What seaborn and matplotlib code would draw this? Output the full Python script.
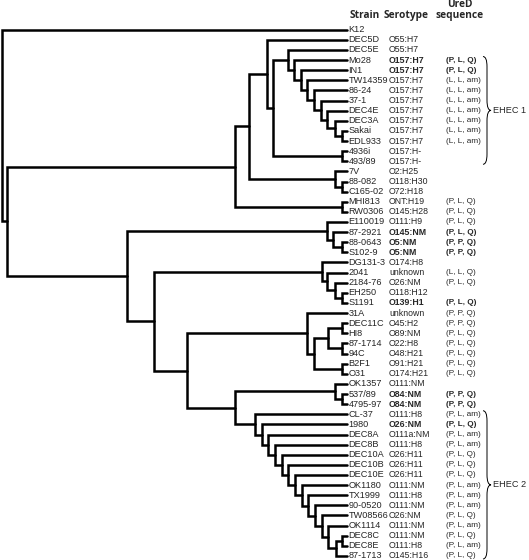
import numpy as np
import pandas as pd
import matplotlib
matplotlib.use("Agg")
import matplotlib.pyplot as plt
from matplotlib import font_manager
from matplotlib.path import Path
from matplotlib.patches import PathPatch
import seaborn as sns

# leaves, top to bottom
strains = ['K12', 'DEC5D', 'DEC5E', 'Mo28', 'IN1', 'TW14359', '86-24', '37-1',
           'DEC4E', 'DEC3A', 'Sakai', 'EDL933', '4936i', '493/89', '7V', '88-082',
           'C165-02', 'MHI813', 'RW0306', 'E110019', '87-2921', '88-0643', 'S102-9',
           'DG131-3', '2041', '2184-76', 'EH250', 'S1191', '31A', 'DEC11C', 'HI8',
           '87-1714', '94C', 'B2F1', 'O31', 'OK1357', '537/89', '4795-97', 'CL-37',
           '1980', 'DEC8A', 'DEC8B', 'DEC10A', 'DEC10B', 'DEC10E', 'OK1180', 'TX1999',
           '90-0520', 'TW08566', 'OK1114', 'DEC8C', 'DEC8E', '87-1713']
serotypes = ['', 'O55:H7', 'O55:H7', 'O157:H7', 'O157:H7', 'O157:H7', 'O157:H7',
             'O157:H7', 'O157:H7', 'O157:H7', 'O157:H7', 'O157:H7', 'O157:H-', 'O157:H-',
             'O2:H25', 'O118:H30', 'O72:H18', 'ONT:H19', 'O145:H28', 'O111:H9',
             'O145:NM', 'O5:NM', 'O5:NM', 'O174:H8', 'unknown', 'O26:NM', 'O118:H12',
             'O139:H1', 'unknown', 'O45:H2', 'O89:NM', 'O22:H8', 'O48:H21', 'O91:H21',
             'O174:H21', 'O111:NM', 'O84:NM', 'O84:NM', 'O111:H8', 'O26:NM', 'O111a:NM',
             'O111:H8', 'O26:H11', 'O26:H11', 'O26:H11', 'O111:NM', 'O111:H8', 'O111:NM',
             'O26:NM', 'O111:NM', 'O111:NM', 'O111:H8', 'O145:H16']
ured = ['', '', '', '(P, L, Q)', '(P, L, Q)', '(L, L, am)', '(L, L, am)', '(L, L, am)',
        '(L, L, am)', '(L, L, am)', '(L, L, am)', '(L, L, am)', '', '', '', '', '',
        '(P, L, Q)', '(P, L, Q)', '(P, L, Q)', '(P, L, Q)', '(P, P, Q)', '(P, P, Q)', '',
        '(L, L, Q)', '(P, L, Q)', '', '(P, L, Q)', '(P, P, Q)', '(P, P, Q)', '(P, L, Q)',
        '(P, L, Q)', '(P, L, Q)', '(P, L, Q)', '(P, L, Q)', '', '(P, P, Q)', '(P, P, Q)',
        '(P, L, am)', '(P, L, Q)', '(P, L, am)', '(P, L, am)', '(P, L, Q)', '(P, L, Q)',
        '(P, L, Q)', '(P, L, am)', '(P, L, am)', '(P, L, am)', '(P, L, Q)', '(P, L, am)',
        '(P, L, Q)', '(P, L, am)', '(P, L, Q)']
bold_strains = ['Mo28', 'IN1', '87-2921', '88-0643', 'S102-9', 'S1191', '537/89',
                '4795-97', '1980']

leaf_dist = 345
# (node, child a, child b, distance from root)
merges = [
    ('s9', 'Sakai', 'EDL933', 340), ('s8', 'DEC3A', 's9', 333), ('s7', 'DEC4E', 's8', 325),
    ('s6', '37-1', 's7', 319), ('s5', '86-24', 's6', 312), ('s4', 'TW14359', 's5', 305),
    ('s3', 'IN1', 's4', 299), ('s2', 'Mo28', 's3', 292), ('s1', 'DEC5E', 's2', 286),
    ('h', '4936i', '493/89', 340), ('d', 's1', 'h', 271), ('c', 'DEC5D', 'd', 265),
    ('v2', '88-082', 'C165-02', 340), ('v', '7V', 'v2', 333), ('b', 'c', 'v', 247),
    ('m', 'MHI813', 'RW0306', 340), ('a', 'b', 'm', 233),
    ('e3', '88-0643', 'S102-9', 340), ('e2', '87-2921', 'e3', 331), ('e1', 'E110019', 'e2', 325),
    ('g4', 'EH250', 'S1191', 340), ('g3', '2184-76', 'g4', 333), ('g2', '2041', 'g3', 325),
    ('g1', 'DG131-3', 'g2', 320),
    ('p1', 'DEC11C', 'HI8', 340), ('p2', '87-1714', '94C', 340), ('p3', 'p1', 'p2', 326),
    ('p4', 'B2F1', 'O31', 340), ('p5', 'p3', 'p4', 312), ('p6', '31A', 'p5', 305),
    ('k2', '537/89', '4795-97', 340), ('k1', 'OK1357', 'k2', 333),
    ('q13', 'DEC8C', 'DEC8E', 340), ('q12', 'q13', '87-1713', 334), ('q11', 'OK1114', 'q12', 326),
    ('q10', 'TW08566', 'q11', 320), ('q9', '90-0520', 'q10', 313), ('q8', 'TX1999', 'q9', 306),
    ('q7', 'OK1180', 'q8', 300), ('q6', 'DEC10E', 'q7', 293), ('q5', 'DEC10B', 'q6', 286),
    ('q4', 'DEC10A', 'q5', 280), ('q3', 'DEC8B', 'q4', 273), ('q2', 'DEC8A', 'q3', 266),
    ('q1', '1980', 'q2', 260), ('q0', 'CL-37', 'q1', 253),
    ('i', 'k1', 'q0', 233), ('hh', 'p6', 'i', 185), ('gg', 'g1', 'hh', 152),
    ('f', 'e1', 'gg', 125), ('r2', 'a', 'f', 5), ('root', 'K12', 'r2', 0),
]
groups = [('EHEC 1', 'Mo28', '493/89'), ('EHEC 2', 'CL-37', '87-1713')]

sns.set_style("white")
plt.rcParams['lines.solid_joinstyle'] = 'miter'


def pick_font(bold):
    for f in font_manager.fontManager.ttflist:
        if f.name == 'Liberation Sans' and f.style == 'normal':
            if (f.weight in ('bold', 700)) == bold:
                return f.fname
    return None


def make_prop(bold, size):
    fn = pick_font(bold)
    if fn:
        return font_manager.FontProperties(fname=fn, size=size)
    return font_manager.FontProperties(family='DejaVu Sans',
                                       weight='bold' if bold else 'normal', size=size)


fs_strain, fs_sero, fs_ured = 6.6, 6.3, 5.9
prop_strain = make_prop(False, fs_strain)
prop_sero = {False: make_prop(False, fs_sero), True: make_prop(True, fs_sero)}
prop_ured = {False: make_prop(False, fs_ured), True: make_prop(True, fs_ured)}

ypos = {s: i for i, s in enumerate(strains)}
xpos = {s: leaf_dist for s in strains}
segs = []
for name, a, b, d in merges:
    ypos[name] = (ypos[a] + ypos[b]) / 2
    xpos[name] = d
    pts = [(xpos[a], ypos[a]), (d, ypos[a]), (d, ypos[b]), (xpos[b], ypos[b])]
    for j, (px, py) in enumerate(pts):
        segs.append({'node': name, 'order': j, 'x': px, 'y': py})
seg_df = pd.DataFrame(segs)

fig = plt.figure(figsize=(5.29, 5.60), dpi=100)
ax = fig.add_axes([0, 0, 1, 1])
sns.lineplot(data=seg_df, x='x', y='y', units='node', estimator=None, sort=False,
             color='black', linewidth=1.8, ax=ax, legend=False)

for i, s in enumerate(strains):
    b = s in bold_strains
    ax.text(leaf_dist + 1.5, i, s, fontproperties=prop_strain, va='center', ha='left')
    ax.text(387, i, serotypes[i], fontproperties=prop_sero[b], va='center', ha='left')
    ax.text(444, i, ured[i], fontproperties=prop_ured[b], va='center', ha='left')

hfont = ['Open Sans', 'DejaVu Sans']
hs = 7.3
ax.text(348, -1.45, 'Strain', fontsize=hs, fontweight='bold', family=hfont, va='center')
ax.text(382, -1.45, 'Serotype', fontsize=hs, fontweight='bold', family=hfont, va='center')
ax.text(458, -2.45, 'UreD', fontsize=hs, fontweight='bold', family=hfont, va='center', ha='center')
ax.text(458, -1.45, 'sequence', fontsize=hs, fontweight='bold', family=hfont, va='center', ha='center')


def brace(ax, x0, top, bot, w=8, r=1.0):
    mid = (top + bot) / 2
    xm = x0 + w * 0.5
    xt = x0 + w
    verts = [(x0, top), (xm, top), (xm, top + r), (xm, mid - r), (xm, mid), (xt, mid),
             (xm, mid), (xm, mid + r), (xm, bot - r), (xm, bot), (x0, bot)]
    codes = [Path.MOVETO, Path.CURVE3, Path.CURVE3, Path.LINETO, Path.CURVE3, Path.CURVE3,
             Path.CURVE3, Path.CURVE3, Path.LINETO, Path.CURVE3, Path.CURVE3]
    ax.add_patch(PathPatch(Path(verts, codes), fill=False, lw=0.7, color='black'))
    return xt, mid


for label, first, last in groups:
    xt, mid = brace(ax, 481, ypos[first] - 0.35, ypos[last] + 0.3)
    ax.text(xt + 2, mid, label, fontproperties=prop_strain, va='center', ha='left')

ax.set_xlim(-2, 527)
ax.set_ylim(52.4, -2.935)
ax.axis('off')
fig.savefig('out.png', dpi=100)
